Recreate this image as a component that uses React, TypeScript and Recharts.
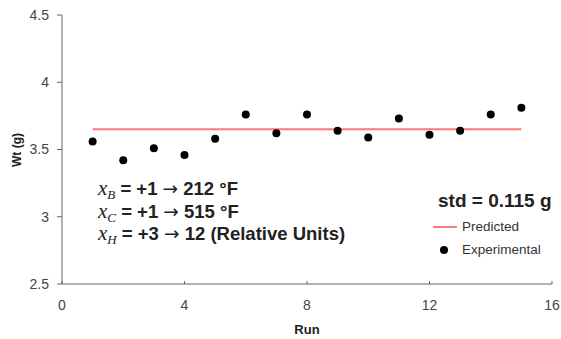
import React from "react"
import { ComposedChart, Line, Scatter, XAxis, YAxis, Legend, Customized } from "recharts"

const runs = [1, 2, 3, 4, 5, 6, 7, 8, 9, 10, 11, 12, 13, 14, 15]
const experimental = [3.56, 3.42, 3.51, 3.46, 3.58, 3.76, 3.62, 3.76, 3.64, 3.59, 3.73, 3.61, 3.64, 3.76, 3.81]
const predicted = [3.65, 3.65, 3.65, 3.65, 3.65, 3.65, 3.65, 3.65, 3.65, 3.65, 3.65, 3.65, 3.65, 3.65, 3.65]
const xTicks = [0, 4, 8, 12, 16]
const yTicks = [2.5, 3, 3.5, 4, 4.5]
const settings = [
  { sub: "B", level: "+1", value: "212 °F" },
  { sub: "C", level: "+1", value: "515 °F" },
  { sub: "H", level: "+3", value: "12 (Relative Units)" },
]
const stdText = "std = 0.115 g"

const FONT = "'Liberation Sans', Arial, sans-serif"
const SERIF = "'Liberation Serif', 'Times New Roman', serif"

const data = runs.map((run, i) => ({ run, wt: experimental[i], pred: predicted[i] }))

const Dot = (props: any) => <circle cx={props.cx} cy={props.cy} r={4} fill="#000" />

function Notes() {
  return (
    <g>
      <text x={17} y={150} transform="rotate(-90 17 150)" textAnchor="middle" dominantBaseline="central"
        fontFamily={FONT} fontSize={12} fontWeight="bold" fill="#222">Wt (g)</text>
      {settings.map((s, i) => (
        <text key={s.sub} x={98} y={195 + i * 22.5} fontFamily={FONT} fontSize={18.5} fontWeight="bold" fill="#222">
          <tspan fontFamily={SERIF} fontStyle="italic" fontWeight="normal" fontSize={21}>x</tspan>
          <tspan fontFamily={SERIF} fontStyle="italic" fontWeight="normal" fontSize={13} dy={4}>{s.sub}</tspan>
          <tspan dy={-4}>{` = ${s.level} `}</tspan>
          <tspan fontFamily="'DejaVu Sans', sans-serif" fontWeight="normal">→</tspan>
          <tspan>{` ${s.value}`}</tspan>
        </text>
      ))}
      <text x={438} y={207} fontFamily={FONT} fontSize={19} fontWeight="bold" fill="#222">{stdText}</text>
    </g>
  )
}

function LegendBox({ payload }: any) {
  const items = [...(payload || [])].sort((a: any, b: any) => (a.type === "line" ? 0 : 1) - (b.type === "line" ? 0 : 1))
  return (
    <div style={{ fontFamily: FONT, fontSize: 13.5, color: "#333", lineHeight: "23px" }}>
      {items.map((p: any) => (
        <div key={p.value} style={{ display: "flex", alignItems: "center" }}>
          <svg width={27} height={10} style={{ marginRight: 2 }}>
            {p.type === "line"
              ? <line x1={0} y1={5} x2={24} y2={5} stroke={p.color} strokeWidth={2} />
              : <circle cx={11} cy={5} r={4} fill="#000" />}
          </svg>
          <span>{p.value}</span>
        </div>
      ))}
    </div>
  )
}

export default function App() {
  return (
    <div style={{ position: "absolute", left: 0, top: 0, background: "#fff" }}>
      <ComposedChart width={561} height={339} data={data} margin={{ top: 15, right: 9, bottom: 0, left: 0 }}>
        <XAxis dataKey="run" type="number" domain={[0, 16]} ticks={xTicks} height={55}
          axisLine={{ stroke: "#666" }} tickLine={{ stroke: "#666" }} tickSize={-3} tickMargin={19}
          tick={{ fontSize: 14, fill: "#444", fontFamily: FONT }}
          label={{ value: "Run", position: "insideBottom", offset: 5, fontSize: 13, fontWeight: "bold", fill: "#222", fontFamily: FONT }} />
        <YAxis type="number" domain={[2.5, 4.5]} ticks={yTicks} width={62}
          axisLine={{ stroke: "#666" }} tickLine={{ stroke: "#666" }} tickSize={5} tickMargin={8}
          tick={{ fontSize: 14, fill: "#444", fontFamily: FONT }} />
        <Line dataKey="pred" name="Predicted" stroke="#f77" strokeWidth={2} dot={false} isAnimationActive={false} legendType="line" />
        <Scatter dataKey="wt" name="Experimental" fill="#000" shape={Dot} isAnimationActive={false} legendType="circle" />
        <Legend content={<LegendBox />} layout="horizontal" verticalAlign="middle" align="center"
          wrapperStyle={{ position: "absolute", left: 433, top: 215, width: 130 }} />
        <Customized component={Notes} />
      </ComposedChart>
    </div>
  )
}
